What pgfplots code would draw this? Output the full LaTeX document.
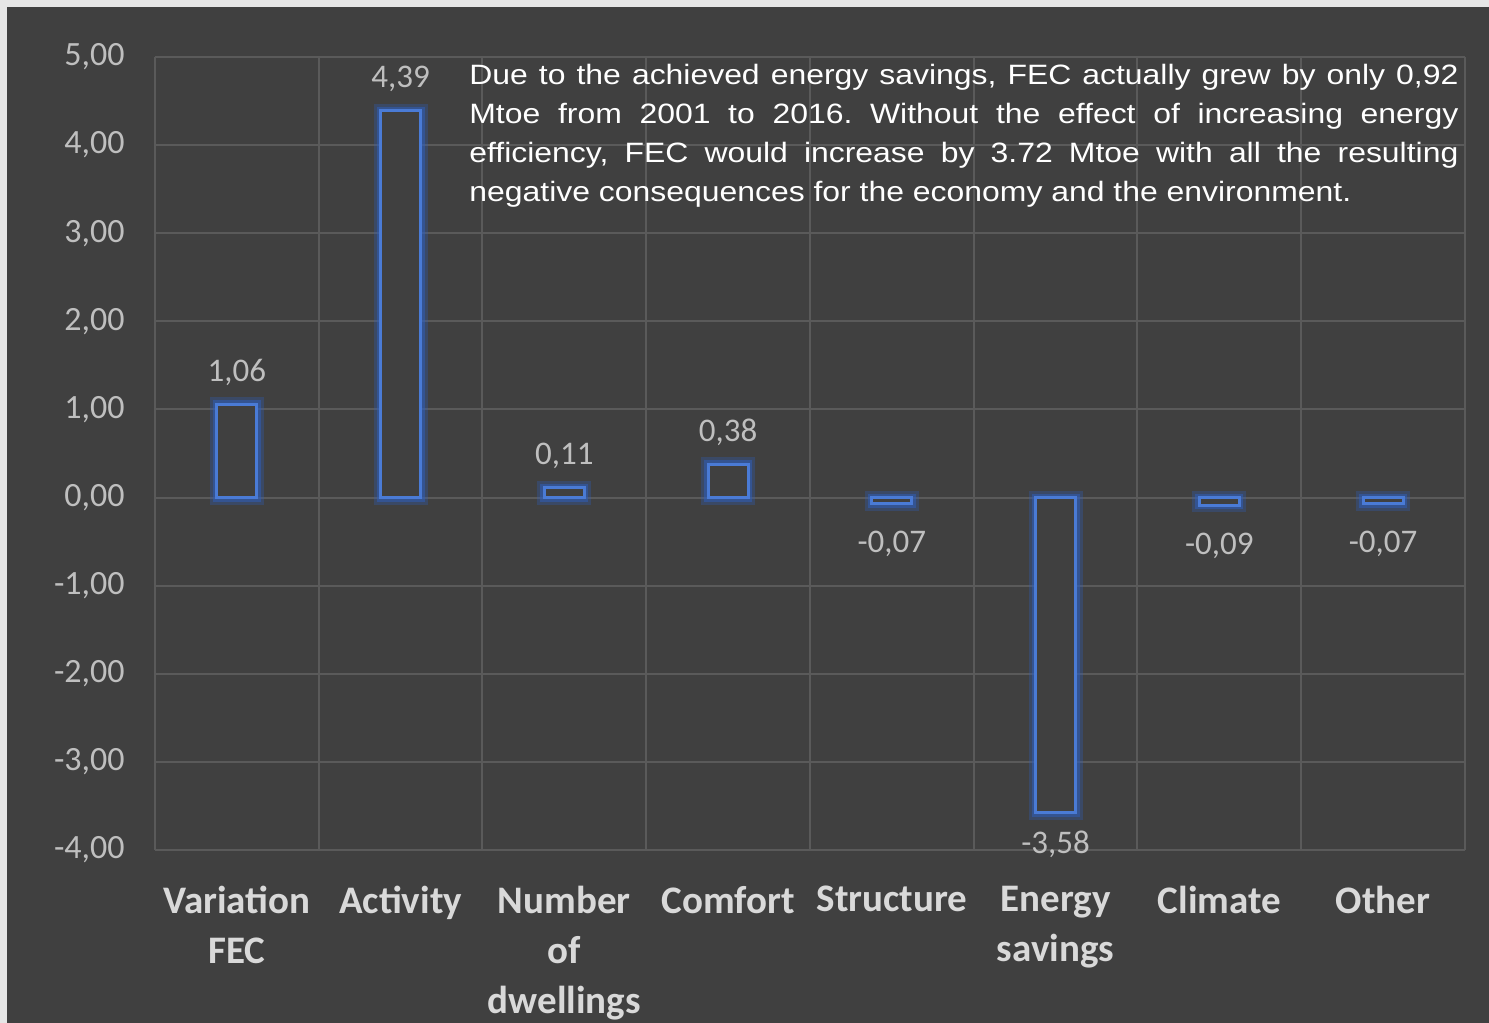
\documentclass[border=0pt]{standalone}
\usepackage{pgfplots}
\pgfplotsset{compat=1.18}
\usepackage{fontspec}
\setmainfont{Liberation Sans}
\newfontfamily\boxfont[FakeStretch=1.14]{Liberation Sans}
\newfontfamily\calibri{Carlito}
\definecolor{bg}{HTML}{404040}
\definecolor{bordc}{HTML}{E6E6E6}
\definecolor{gridc}{HTML}{5A5A5A}
\definecolor{ticklab}{HTML}{BFBFBF}
\definecolor{catlab}{HTML}{D9D9D9}
\definecolor{barblue}{HTML}{4A7BD6}
\definecolor{glow}{HTML}{2F5FBF}
\begin{document}
\frenchspacing
\begin{tikzpicture}
\fill[bordc] (-77.5bp,-86.5bp) rectangle (667bp,425bp);
\fill[bg] (-74bp,-86.5bp) rectangle (667bp,421.5bp);
\begin{axis}[at={(0,0)}, anchor=south west, scale only axis,
  width=655bp, height=396.5bp,
  xmin=-0.5, xmax=7.5, ymin=-4, ymax=5,
  ytick={-4,-3,...,5},
  xtick={0,1,...,7},
  minor xtick={-0.5,0.5,...,7.5},
  xminorgrids, ymajorgrids,
  major grid style={gridc, line width=1bp},
  minor grid style={gridc, line width=1bp},
  major tick length=0pt, minor tick length=0pt,
  axis line style={draw=none},
  /pgf/number format/fixed, /pgf/number format/fixed zerofill,
  /pgf/number format/precision=2, /pgf/number format/use comma,
  /pgf/number format/assume math mode=true,
  yticklabel style={font=\calibri\fontsize{17bp}{20bp}\selectfont, text=ticklab, anchor=east, inner sep=0pt, xshift=-15bp},
  xticklabels={{Variation\\FEC},{Activity},{Number\\of\\dwellings},{Comfort},{Structure},{Energy\\savings},{Climate},{Other}},
  xticklabel style={font=\calibri\bfseries\fontsize{19.5bp}{25bp}\selectfont, text=catlab, align=center, anchor=north, inner sep=0pt, yshift=-18bp},
]
% glow layers
\addplot[ybar, bar width=20bp, bar shift=0pt, draw=glow, draw opacity=0.3, line width=7bp, fill=none]
  coordinates {(0,1.06) (1,4.39) (2,0.11) (3,0.38) (4,-0.07) (5,-3.58) (6,-0.09) (7,-0.07)};
\addplot[ybar, bar width=20bp, bar shift=0pt, draw=glow, draw opacity=0.5, line width=4bp, fill=none]
  coordinates {(0,1.06) (1,4.39) (2,0.11) (3,0.38) (4,-0.07) (5,-3.58) (6,-0.09) (7,-0.07)};
% main bars
\addplot[ybar, bar width=20bp, bar shift=0pt, draw=barblue, line width=1.5bp, fill=bg]
  coordinates {(0,1.06) (1,4.39) (2,0.11) (3,0.38) (4,-0.07) (5,-3.58) (6,-0.09) (7,-0.07)};
% data labels
\addplot[draw=none, mark=none, nodes near coords,
  every node near coord/.append style={font=\calibri\fontsize{16.5bp}{20bp}\selectfont, text=ticklab, anchor=base, inner sep=0pt, yshift=11.5bp}]
  coordinates {(0,1.06) (1,4.39) (2,0.11) (3,0.38)};
\addplot[draw=none, mark=none, nodes near coords,
  every node near coord/.append style={font=\calibri\fontsize{16.5bp}{20bp}\selectfont, text=ticklab, anchor=base, inner sep=0pt, yshift=-20.3bp}]
  coordinates {(5,-3.58)};
\addplot[draw=none, mark=none, nodes near coords,
  every node near coord/.append style={font=\calibri\fontsize{16.5bp}{20bp}\selectfont, text=ticklab, anchor=base, inner sep=0pt, yshift=-24.5bp}]
  coordinates {(4,-0.07) (6,-0.09) (7,-0.07)};
\end{axis}
\node[anchor=base west, inner sep=0pt, text width=494.5bp, align=justify, text=white,
  font=\boxfont\fontsize{14bp}{19.5bp}\selectfont] at (157bp,382.5bp)
  {Due to the achieved energy savings, FEC actually grew by only 0,92\linebreak
   Mtoe from 2001 to 2016. Without the effect of increasing energy\linebreak
   efficiency, FEC would increase by 3.72 Mtoe with all the resulting\linebreak
   negative consequences for the economy and the environment.};
\pgfresetboundingbox
\path[use as bounding box] (-77.5bp,-86.5bp) rectangle (667bp,425bp);
\end{tikzpicture}
\end{document}
